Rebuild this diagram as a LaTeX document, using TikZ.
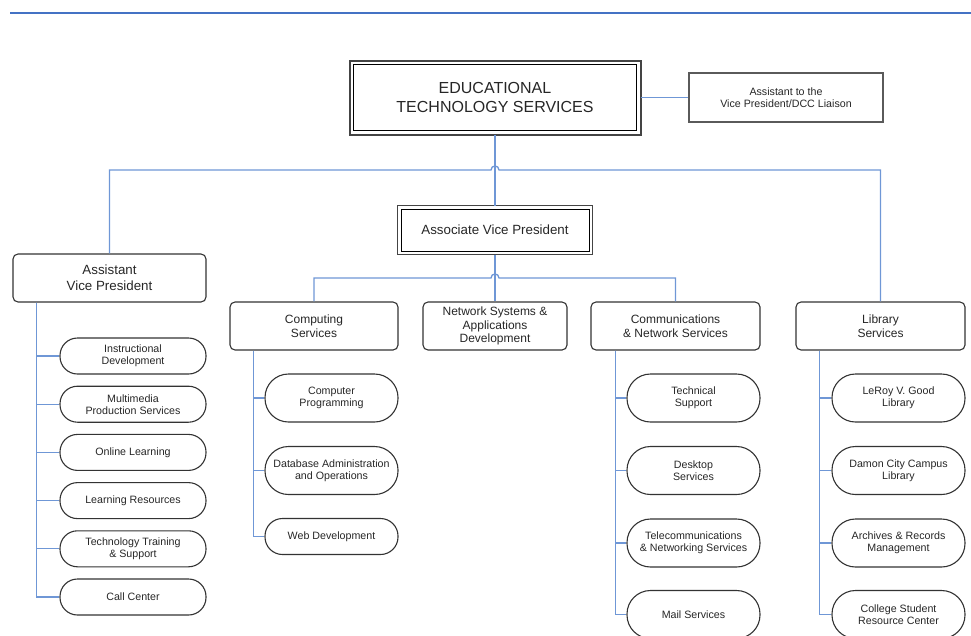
\documentclass[tikz,border=0pt]{standalone}
\usepackage{fontspec}
\setmainfont{Liberation Sans}
\definecolor{connc}{HTML}{6F97D6}
\definecolor{toplinec}{HTML}{4472C4}
\definecolor{bord}{HTML}{333333}
\definecolor{outerb}{HTML}{444444}
\definecolor{grayb}{HTML}{5A5A5A}
\definecolor{txt}{HTML}{262626}
\begin{document}
\begin{tikzpicture}[x=1pt,y=-1pt,
  conn/.style={draw=connc, line width=1.3pt},
  box/.style={draw=bord, line width=1.1pt, rounded corners=5pt, text=txt, align=center, inner sep=0pt, minimum height=48pt, font=\fontsize{12}{14}\selectfont},
  bigbox/.style={box, font=\fontsize{13.33}{16}\selectfont},
  dblbox/.style={draw=black, line width=1pt, text=txt, align=center, inner sep=0pt},
  pill/.style={draw=bord, line width=1.1pt, rounded corners=23.5pt, text=txt, align=center, inner sep=0pt, minimum width=133pt, minimum height=48pt, font=\fontsize{10.67}{12}\selectfont},
  spill/.style={pill, rounded corners=17.5pt, minimum height=36pt},
  lpill/.style={spill, minimum width=146pt}
]
\useasboundingbox (0,0) rectangle (971,635);
% top rule
\coordinate (tl) at (10,12.7);
\coordinate (tr) at (971,12.7);
\draw[draw=toplinec, line width=2pt] (tl) -- (tr);

% top level
\node[dblbox, minimum width=283pt, minimum height=66pt, font=\fontsize{16}{19}\selectfont] (ets) at (495,97.5) {EDUCATIONAL\\TECHNOLOGY SERVICES};
\draw[draw=outerb, line width=2pt] ([shift={(-3.5,-3.5)}]ets.north west) rectangle ([shift={(3.5,3.5)}]ets.south east);

\node[draw=grayb, line width=1.2pt, text=txt, align=center, inner sep=0pt, minimum width=194pt, minimum height=49pt, font=\fontsize{10.67}{12}\selectfont] (atvp) at (786,97.5) {Assistant to the\\Vice President/DCC Liaison};

\node[dblbox, minimum width=188pt, minimum height=42pt, font=\fontsize{13.33}{16}\selectfont] (avp) at (495,230) {Associate Vice President};
\draw[draw=outerb, line width=1.5pt] ([shift={(-3,-3)}]avp.north west) rectangle ([shift={(3,3)}]avp.south east);

\node[bigbox, minimum width=193pt] (asstvp) at (109.5,278) {Assistant\\Vice President};

% second row
\node[box, minimum width=168pt] (comp) at (314,326) {Computing\\Services};
\node[box, minimum width=144pt, font=\fontsize{12}{13.5}\selectfont] (net) at (495,326) {Network Systems \&\\Applications\\Development};
\node[box, minimum width=169pt] (comm) at (675.5,326) {Communications\\\& Network Services};
\node[box, minimum width=169pt] (lib) at (880.5,326) {Library\\Services};

% left column pills
\node[lpill] (id) at (133,356) {Instructional\\Development};
\node[lpill] (mm) at (133,404.2) {Multimedia\\Production Services};
\node[lpill] (ol) at (133,452.4) {Online Learning};
\node[lpill] (lr) at (133,500.6) {Learning Resources};
\node[lpill] (tt) at (133,548.8) {Technology Training\\\& Support};
\node[lpill] (cc) at (133,597) {Call Center};

% computing pills
\node[pill] (cp) at (331.5,398) {Computer\\Programming};
\node[pill] (db) at (331.5,470.5) {Database Administration\\and Operations};
\node[spill, minimum width=133pt] (wd) at (331.5,536.5) {Web Development};

% communications pills
\node[pill] (ts) at (693.5,398) {Technical\\Support};
\node[pill] (ds) at (693.5,470.5) {Desktop\\Services};
\node[pill] (tn) at (693.5,543) {Telecommunications\\\& Networking Services};
\node[pill] (ms) at (693.5,614.5) {Mail Services};

% library pills
\node[pill] (lg) at (898.5,398) {LeRoy V. Good\\Library};
\node[pill] (dc) at (898.5,470.5) {Damon City Campus\\Library};
\node[pill] (ar) at (898.5,543) {Archives \& Records\\Management};
\node[pill] (cs) at (898.5,614.5) {College Student\\Resource Center};

% connectors
\draw[conn] ([shift={(3.5,0)}]ets.east) -- (atvp.west);
\draw[conn] ([shift={(0,3.5)}]ets.south) -- ([shift={(0,-3)}]avp.north);
\coordinate (j1) at (495,170);
\draw[conn] (asstvp.north) |- ([xshift=-4pt]j1) .. controls ([shift={(-4,-5.3)}]j1) and ([shift={(4,-5.3)}]j1) .. ([xshift=4pt]j1) -| (lib.north);
\draw[conn] ([shift={(0,3)}]avp.south) -- (net.north);
\coordinate (j2) at (495,278);
\draw[conn] (comp.north) |- ([xshift=-4pt]j2) .. controls ([shift={(-4,-5.3)}]j2) and ([shift={(4,-5.3)}]j2) .. ([xshift=4pt]j2) -| (comm.north);

\foreach \c in {id,mm,ol,lr,tt,cc} \draw[conn] ([xshift=24pt]asstvp.south west) |- (\c.west);
\foreach \c in {cp,db,wd} \draw[conn] ([xshift=24pt]comp.south west) |- (\c.west);
\foreach \c in {ts,ds,tn,ms} \draw[conn] ([xshift=25pt]comm.south west) |- (\c.west);
\foreach \c in {lg,dc,ar,cs} \draw[conn] ([xshift=24pt]lib.south west) |- (\c.west);
\end{tikzpicture}
\end{document}
